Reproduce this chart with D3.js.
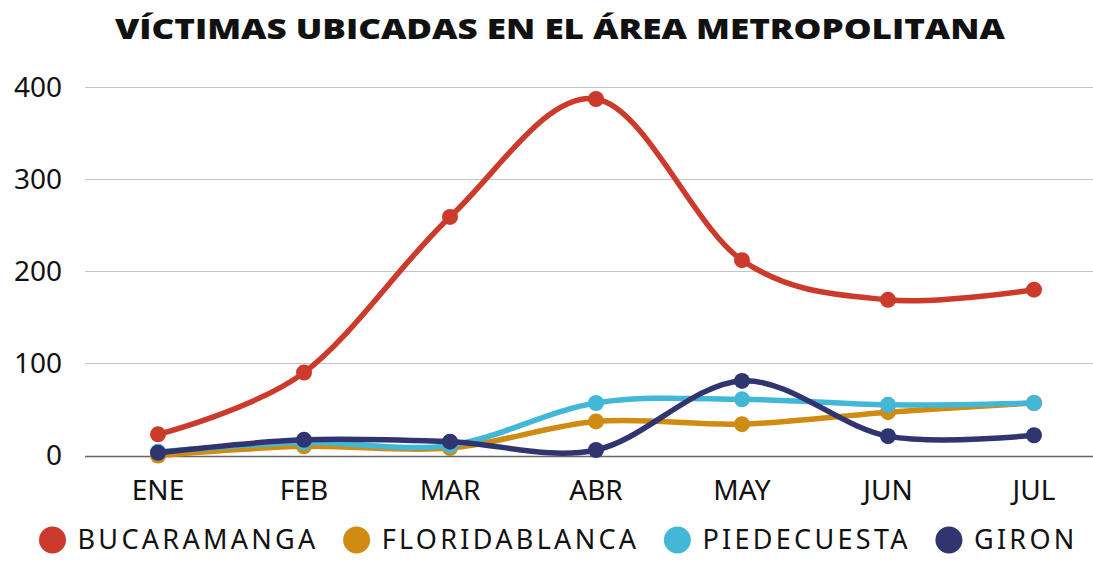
<!DOCTYPE html>
<html>
<head>
<meta charset="utf-8">
<script src="https://cdn.jsdelivr.net/npm/d3@7"></script>
<style>
  body { margin: 0; background: #fff; }
  svg { display: block; }
</style>
</head>
<body>
<div id="chart"></div>
<script>
// Chart data
const months = ["ENE", "FEB", "MAR", "ABR", "MAY", "JUN", "JUL"];
const bucaramanga = [23, 90, 259, 387, 212, 169, 180];
const floridablanca = [0, 10, 8, 37, 34, 47, 57];
const piedecuesta = [4, 14, 11, 57, 61, 55, 57];
const giron = [3, 17, 15, 6, 81, 21, 22];
const seriesNames = ["BUCARAMANGA", "FLORIDABLANCA", "PIEDECUESTA", "GIRON"];
const yTicks = [0, 100, 200, 300, 400];

const colors = ["#cc3a2c", "#d08b12", "#43b8d6", "#30356f"];
const seriesValues = [bucaramanga, floridablanca, piedecuesta, giron];

const width = 1093, height = 565;

const svg = d3.select("#chart")
    .append("svg")
    .attr("width", width)
    .attr("height", height);

// Title
svg.append("text")
    .attr("x", 115)
    .attr("y", 39)
    .attr("textLength", 890)
    .attr("lengthAdjust", "spacingAndGlyphs")
    .style("font-family", "'Open Sans', sans-serif")
    .style("font-weight", 800)
    .style("font-size", "28px")
    .style("fill", "#111")
    .text("VÍCTIMAS UBICADAS EN EL ÁREA METROPOLITANA");

const xScale = d3.scalePoint()
    .domain(months)
    .range([158, 1034]);

const yScale = d3.scaleLinear()
    .domain([0, 400])
    .range([455.5, 87]);

// Grid lines
svg.append("g")
    .selectAll("line")
    .data(yTicks)
    .enter().append("line")
    .attr("x1", 85)
    .attr("x2", width)
    .attr("y1", d => Math.round(yScale(d)) + 0.5)
    .attr("y2", d => Math.round(yScale(d)) + 0.5)
    .attr("stroke", d => d === 0 ? "#666" : "#c4c4c4")
    .attr("stroke-width", d => d === 0 ? 1.5 : 1);

// Y axis labels
svg.append("g")
    .selectAll("text")
    .data(yTicks)
    .enter().append("text")
    .attr("x", 62)
    .attr("y", d => yScale(d))
    .attr("dy", "0.35em")
    .attr("text-anchor", "end")
    .style("font-family", "'Noto Sans', 'Open Sans', sans-serif")
    .style("font-size", "28px")
    .style("fill", "#111")
    .text(d => d);

// X axis labels
svg.append("g")
    .selectAll("text")
    .data(months)
    .enter().append("text")
    .attr("x", d => xScale(d))
    .attr("y", 500)
    .attr("text-anchor", "middle")
    .style("font-family", "'Noto Sans', 'Open Sans', sans-serif")
    .style("font-size", "28px")
    .style("fill", "#111")
    .text(d => d);

const line = d3.line()
    .x((d, i) => xScale(months[i]))
    .y(d => yScale(d))
    .curve(d3.curveCardinal.tension(0));

// Lines and markers
seriesValues.forEach((vals, s) => {
    const g = svg.append("g");
    g.append("path")
        .datum(vals)
        .attr("d", line)
        .attr("fill", "none")
        .attr("stroke", colors[s])
        .attr("stroke-width", 5.5)
        .attr("stroke-linecap", "round");
    g.selectAll("circle")
        .data(vals)
        .enter().append("circle")
        .attr("cx", (d, i) => xScale(months[i]))
        .attr("cy", d => yScale(d))
        .attr("r", 8)
        .attr("fill", colors[s]);
});

// Legend, laid out left to right
const legend = svg.append("g");
let lx = 52.5;
seriesNames.forEach((name, i) => {
    legend.append("circle")
        .attr("cx", lx)
        .attr("cy", 540)
        .attr("r", 13.5)
        .attr("fill", colors[i]);
    const t = legend.append("text")
        .attr("x", lx + 25)
        .attr("y", 540)
        .attr("dy", "0.35em")
        .style("font-family", "'Noto Sans', 'Open Sans', sans-serif")
        .style("font-size", "27px")
        .style("letter-spacing", "3.3px")
        .style("fill", "#111")
        .text(name);
    lx = lx + 25 + t.node().getComputedTextLength() + 38;
});
</script>
</body>
</html>
